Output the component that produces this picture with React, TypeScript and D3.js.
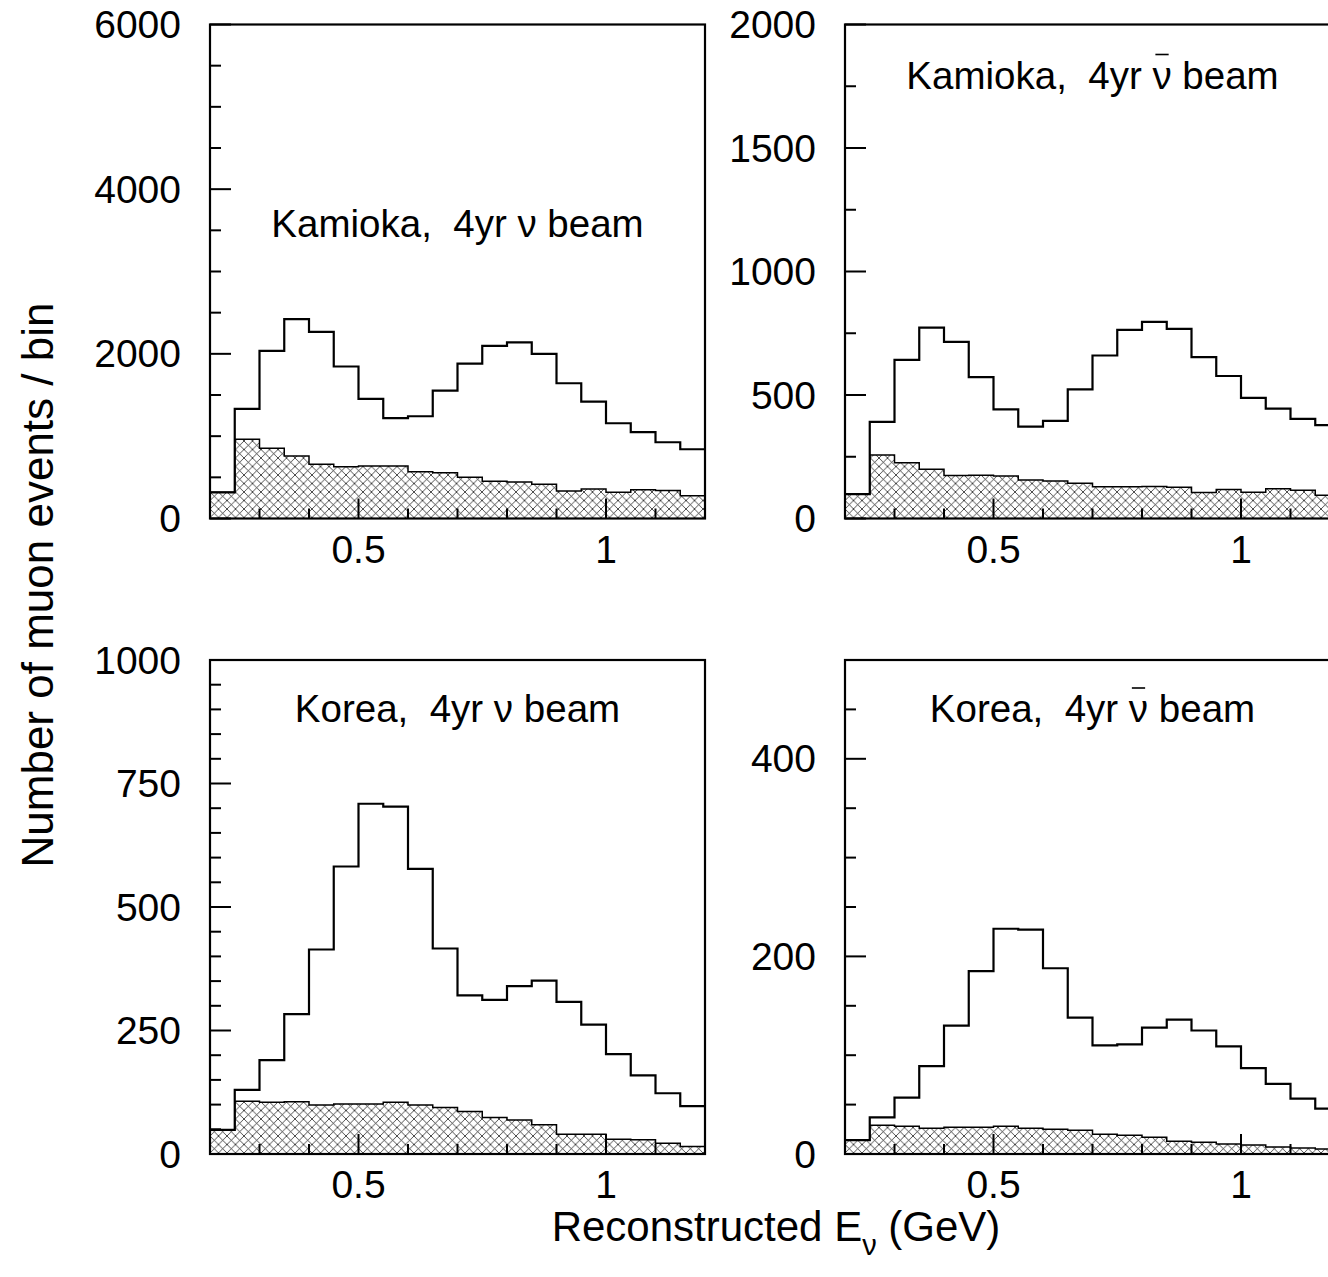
import React, { useEffect, useRef } from 'react';
import * as d3 from 'd3';

// bin edges in GeV (20 bins of 0.05)
const binEdges = [0.2, 0.25, 0.3, 0.35, 0.4, 0.45, 0.5, 0.55, 0.6, 0.65, 0.7,
  0.75, 0.8, 0.85, 0.9, 0.95, 1.0, 1.05, 1.1, 1.15, 1.2];

const xTicksMajor = [0.5, 1];
const xTicksMinor = [0.3, 0.4, 0.6, 0.7, 0.8, 0.9, 1.1];
const xTickLabels = ['0.5', '1'];

// Kamioka, nu beam
const kamNuTotal = [318, 1331, 2036, 2422, 2267, 1846, 1453, 1218, 1242, 1554,
  1882, 2097, 2138, 2000, 1643, 1420, 1157, 1048, 926, 841];
const kamNuBkg = [318, 963, 853, 760, 659, 630, 638, 638, 569, 557,
  500, 452, 444, 415, 334, 359, 318, 350, 339, 277];
const kamNuYTicks = [0, 2000, 4000, 6000];

// Kamioka, anti-nu beam
const kamNubarTotal = [99, 391, 642, 773, 715, 572, 442, 372, 395, 523,
  660, 764, 796, 768, 653, 577, 488, 445, 403, 378];
const kamNubarBkg = [99, 257, 226, 199, 174, 175, 172, 156, 152, 143,
  129, 129, 130, 127, 105, 117, 106, 120, 114, 94];
const kamNubarYTicks = [0, 500, 1000, 1500, 2000];

// Korea, nu beam
const korNuTotal = [49, 130, 190, 283, 414, 582, 709, 703, 577, 416,
  321, 312, 340, 351, 308, 262, 202, 159, 123, 97];
const korNuBkg = [49, 107, 105, 106, 99, 101, 101, 105, 99, 94,
  86, 74, 69, 59, 40, 40, 30, 29, 22, 15];
const korNuYTicks = [0, 250, 500, 750, 1000];

// Korea, anti-nu beam
const korNubarTotal = [14, 37, 57, 89, 130, 185, 228, 227, 188, 138,
  110, 111, 128, 136, 125, 109, 87, 71, 56, 46];
const korNubarBkg = [14, 29, 28, 26, 27, 27, 28, 26, 25, 24,
  20, 19, 17, 13, 12, 10, 9, 7, 6, 5];
const korNubarYTicks = [0, 200, 400];

const FONT = '"Liberation Sans", Arial, Helvetica, sans-serif';

const App = () => {
  const svgRef = useRef(null);

  useEffect(() => {
    document.body.style.margin = '0';
    const width = 1328;
    const height = 1277;
    const pw = 495;
    const ph = 494;

    const svg = d3.select(svgRef.current);
    svg.selectAll('*').remove();
    svg.attr('width', width).attr('height', height)
      .style('font-family', FONT)
      .style('background', 'white');

    // cross hatch for the background histogram
    svg.append('defs').append('pattern')
      .attr('id', 'hatch')
      .attr('patternUnits', 'userSpaceOnUse')
      .attr('width', 8.5)
      .attr('height', 8.5)
      .append('path')
      .attr('d', 'M0,0L8.5,8.5M8.5,0L0,8.5')
      .attr('stroke', '#000')
      .attr('stroke-width', 0.7);

    const panels = [
      { x0: 210, y0: 24.5, yMax: 6000, yTicks: kamNuYTicks, minor: 500, total: kamNuTotal, bkg: kamNuBkg,
        site: 'Kamioka,  4yr ', bar: false, labelY: 212.5 },
      { x0: 845, y0: 24.5, yMax: 2000, yTicks: kamNubarYTicks, minor: 250, total: kamNubarTotal, bkg: kamNubarBkg,
        site: 'Kamioka,  4yr ', bar: true, labelY: 64 },
      { x0: 210, y0: 660, yMax: 1000, yTicks: korNuYTicks, minor: 50, total: korNuTotal, bkg: korNuBkg,
        site: 'Korea,  4yr ', bar: false, labelY: 62 },
      { x0: 845, y0: 660, yMax: 500, yTicks: korNubarYTicks, minor: 50, total: korNubarTotal, bkg: korNubarBkg,
        site: 'Korea,  4yr ', bar: true, labelY: 62 },
    ];

    panels.forEach((p) => {
      const g = svg.append('g').attr('transform', `translate(${p.x0},${p.y0})`);
      const x = d3.scaleLinear().domain([0.2, 1.2]).range([0, pw]);
      const y = d3.scaleLinear().domain([0, p.yMax]).range([ph, 0]);

      // last edge repeats the last bin value so the step closes at 1.2
      const pts = binEdges.map((e, i) => ({ e, v: p.total[Math.min(i, p.total.length - 1)] }));
      const bpts = binEdges.map((e, i) => ({ e, v: p.bkg[Math.min(i, p.bkg.length - 1)] }));

      const area = d3.area()
        .x(d => x(d.e))
        .y0(ph)
        .y1(d => y(d.v))
        .curve(d3.curveStepAfter);
      const line = d3.line()
        .x(d => x(d.e))
        .y(d => y(d.v))
        .curve(d3.curveStepAfter);

      g.append('path').datum(bpts)
        .attr('d', area)
        .attr('fill', 'url(#hatch)');
      g.append('path').datum(bpts)
        .attr('d', line)
        .attr('fill', 'none')
        .attr('stroke', '#000')
        .attr('stroke-width', 1.5);
      g.append('path').datum(pts)
        .attr('d', line)
        .attr('fill', 'none')
        .attr('stroke', '#000')
        .attr('stroke-width', 2.2);

      // y ticks (inward)
      const minorY = d3.range(0, p.yMax + 0.001, p.minor).filter(v => !p.yTicks.includes(v));
      g.selectAll('.ymin').data(minorY).enter().append('line')
        .attr('x1', 0).attr('x2', 11)
        .attr('y1', d => y(d)).attr('y2', d => y(d))
        .attr('stroke', '#000').attr('stroke-width', 2);
      g.selectAll('.ymaj').data(p.yTicks).enter().append('line')
        .attr('x1', 0).attr('x2', 21)
        .attr('y1', d => y(d)).attr('y2', d => y(d))
        .attr('stroke', '#000').attr('stroke-width', 2);
      g.selectAll('.ylab').data(p.yTicks).enter().append('text')
        .attr('x', -29)
        .attr('y', d => y(d) + 13.5)
        .attr('text-anchor', 'end')
        .attr('font-size', 39)
        .text(d => String(d));

      // x ticks (inward)
      g.selectAll('.xmin').data(xTicksMinor).enter().append('line')
        .attr('x1', d => x(d)).attr('x2', d => x(d))
        .attr('y1', ph).attr('y2', ph - 10)
        .attr('stroke', '#000').attr('stroke-width', 2);
      g.selectAll('.xmaj').data(xTicksMajor).enter().append('line')
        .attr('x1', d => x(d)).attr('x2', d => x(d))
        .attr('y1', ph).attr('y2', ph - 20)
        .attr('stroke', '#000').attr('stroke-width', 2);
      g.selectAll('.xlab').data(xTicksMajor).enter().append('text')
        .attr('x', d => x(d))
        .attr('y', ph + 44)
        .attr('text-anchor', 'middle')
        .attr('font-size', 39)
        .text((d, i) => xTickLabels[i]);

      // frame
      g.append('rect')
        .attr('width', pw).attr('height', ph)
        .attr('fill', 'none')
        .attr('stroke', '#000')
        .attr('stroke-width', 2.2);

      // panel label
      const t = g.append('text')
        .attr('x', pw / 2)
        .attr('y', p.labelY)
        .attr('text-anchor', 'middle')
        .attr('font-size', 38.5)
        .style('white-space', 'pre')
        .text(p.site + 'ν beam');

      if (p.bar) {
        // bar over the nu
        const ext = t.node().getExtentOfChar(p.site.length);
        g.append('line')
          .attr('x1', ext.x + 3)
          .attr('x2', ext.x + ext.width - 3)
          .attr('y1', p.labelY - 34)
          .attr('y2', p.labelY - 34)
          .attr('stroke', '#000')
          .attr('stroke-width', 1.6);
      }
    });

    // axis titles
    svg.append('text')
      .attr('transform', 'translate(53,585) rotate(-90)')
      .attr('text-anchor', 'middle')
      .attr('font-size', 44)
      .text('Number of muon events / bin');

    const xt = svg.append('text')
      .attr('x', 776)
      .attr('y', 1241)
      .attr('text-anchor', 'middle')
      .attr('font-size', 42)
      .style('white-space', 'pre');
    xt.append('tspan').text('Reconstructed E');
    xt.append('tspan').attr('font-size', 29).attr('dy', 14).text('ν');
    xt.append('tspan').attr('dy', -14).text(' (GeV)');
  }, []);

  return (
    <div style={{ width: 1328, height: 1277, overflow: 'hidden' }}>
      <svg ref={svgRef}></svg>
    </div>
  );
};

export default App;
